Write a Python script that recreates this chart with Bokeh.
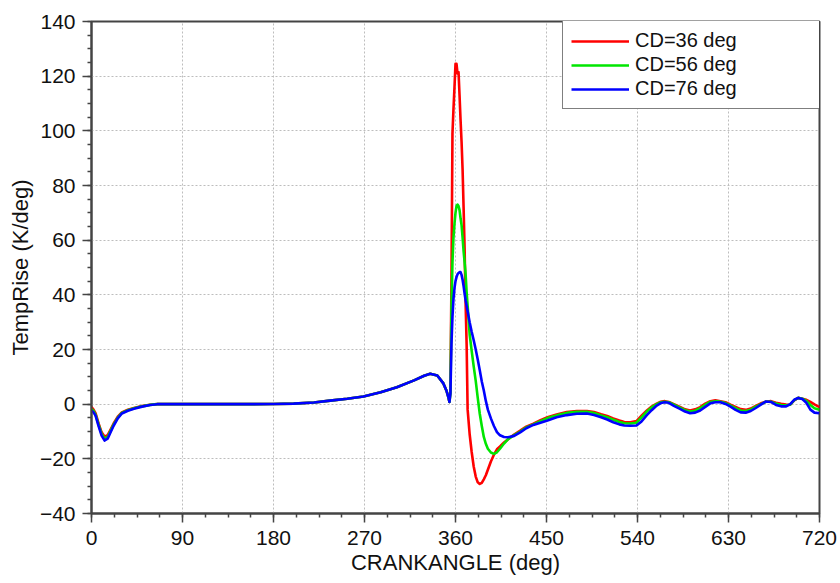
from bokeh.plotting import figure
from bokeh.models import Range1d, SingleIntervalTicker, Legend, LegendItem
from bokeh.embed import file_html
from bokeh.resources import INLINE

# Crank angle samples (deg), shared by all three series
crank_deg = [0, 2, 4, 7, 10, 13, 16, 19, 22, 26, 30, 36, 42, 50, 58, 65,
             90, 120, 150, 180, 200, 220, 236, 253, 269, 286, 302, 319, 329, 335, 342, 348,
             351, 353, 354, 355, 356, 357, 358, 359, 360, 361, 362, 363, 364, 365, 366, 367,
             368, 369, 370, 371, 372, 374, 376, 378, 380, 382, 384, 386, 388, 390, 392, 395,
             398, 401, 404, 408, 412, 418, 424, 430, 437, 444, 451, 460, 470, 480, 490, 497,
             504, 510, 516, 522, 527, 533, 539, 544, 549, 554, 559, 563, 567, 571, 576, 582,
             587, 592, 597, 602, 607, 612, 617, 622, 627, 632, 637, 642, 647, 652, 657, 662,
             667, 672, 677, 682, 687, 691, 695, 699, 703, 707, 711, 715, 720]

# Temperature rise rate (K/deg) for each combustion duration
cd36 = [-1.1, -2.0, -3.3, -7.0, -10.3, -11.9, -11.3, -9.2, -7.0, -4.6, -3.0, -2.0, -1.4, -0.7, -0.2, 0.0,
        0.0, 0.0, 0.0, 0.05, 0.2, 0.6, 1.3, 2.0, 2.8, 4.4, 6.2, 8.7, 10.4, 11.1, 10.5, 7.6,
        5.0, 2.5, 0.8, 5.0, 45.0, 99.0, 108.0, 116.0, 124.5, 124.5, 121.0, 121.5, 113.0, 104.0, 96.0, 86.0,
        72.0, 57.0, 37.0, 22.0, -2.0, -11.0, -17.5, -22.8, -26.5, -28.6, -29.2, -28.8, -27.5, -26.0, -24.0, -21.0,
        -18.5, -16.5, -15.5, -14.0, -12.8, -11.1, -9.7, -8.2, -7.1, -5.9, -4.8, -3.8, -2.9, -2.5, -2.5, -2.9,
        -3.7, -4.3, -5.2, -6.0, -6.5, -6.6, -6.2, -4.2, -2.4, -0.9, 0.2, 0.9, 1.1, 0.8, 0.0, -1.0,
        -1.9, -2.3, -1.9, -1.1, 0.2, 1.1, 1.4, 1.1, 0.7, -0.2, -1.0, -1.8, -2.1, -1.6, -0.6, 0.3,
        0.9, 1.1, 0.5, 0.1, -0.1, -0.2, 1.4, 2.3, 2.0, 1.6, 0.8, -0.1, -1.1]

cd56 = [-1.7, -2.5, -3.8, -7.5, -10.9, -12.6, -12.0, -9.7, -7.4, -4.9, -3.2, -2.2, -1.5, -0.8, -0.25, 0.0,
        0.0, 0.0, 0.0, 0.05, 0.2, 0.6, 1.3, 2.0, 2.8, 4.4, 6.2, 8.7, 10.4, 11.1, 10.5, 7.6,
        5.0, 2.5, 0.8, 4.0, 35.0, 52.0, 61.0, 66.0, 70.0, 72.5, 73.0, 72.5, 71.0, 68.0, 65.5, 61.0,
        56.0, 52.0, 47.5, 41.0, 36.0, 25.5, 19.5, 13.8, 8.5, 2.3, -3.5, -8.0, -12.0, -14.5, -16.3, -17.7,
        -18.2, -17.6, -16.3, -14.4, -12.8, -11.3, -10.0, -8.5, -7.4, -6.2, -5.1, -4.1, -3.2, -2.8, -2.8, -3.2,
        -4.1, -4.8, -5.7, -6.5, -7.0, -7.1, -6.8, -4.8, -2.8, -1.2, 0.0, 0.7, 0.9, 0.7, -0.2, -1.3,
        -2.2, -2.7, -2.4, -1.5, -0.2, 0.8, 1.1, 0.9, 0.4, -0.5, -1.5, -2.3, -2.5, -2.0, -0.9, 0.0,
        0.9, 0.9, 0.2, -0.3, -0.4, -0.2, 1.5, 2.3, 2.0, 1.2, -0.3, -1.5, -2.0]

cd76 = [-2.3, -3.0, -4.2, -8.0, -11.5, -13.3, -12.6, -10.2, -7.8, -5.2, -3.4, -2.4, -1.7, -0.9, -0.3, 0.0,
        0.0, 0.0, 0.0, 0.05, 0.2, 0.6, 1.3, 2.0, 2.8, 4.4, 6.2, 8.7, 10.4, 11.1, 10.5, 7.6,
        5.0, 2.5, 0.8, 4.0, 22.0, 32.0, 38.5, 42.5, 45.0, 46.5, 47.5, 48.0, 48.3, 48.3, 47.3, 45.5,
        43.2, 40.5, 38.0, 36.0, 34.0, 30.0, 26.5, 23.4, 20.0, 16.3, 12.4, 8.3, 5.0, 1.2, -2.0, -5.2,
        -8.0, -10.2, -11.4, -12.0, -12.1, -11.6, -10.3, -8.8, -7.6, -6.8, -6.0, -4.8, -4.0, -3.5, -3.4, -4.0,
        -4.8, -5.6, -6.6, -7.4, -7.8, -7.9, -7.8, -6.3, -4.1, -2.2, -0.5, 0.4, 0.7, 0.5, -0.6, -1.7,
        -2.7, -3.3, -3.1, -2.3, -1.0, 0.3, 0.7, 0.7, 0.1, -0.9, -2.1, -3.0, -3.1, -2.5, -1.4, -0.2,
        1.0, 0.8, -0.3, -0.8, -0.8, 0.0, 1.6, 2.3, 1.9, 0.5, -2.0, -3.1, -3.3]

series_labels = ["CD=36 deg", "CD=56 deg", "CD=76 deg"]
series_colors = ["#ff0000", "#00e600", "#0000ff"]

FONT = "Liberation Sans"
AXIS_COLOR = "#444444"

p = figure(width=840, height=583,
           x_range=Range1d(0, 720), y_range=Range1d(-40, 140),
           output_backend="svg", toolbar_location=None,
           min_border_left=91, min_border_right=21,
           min_border_top=21, min_border_bottom=70)

p.background_fill_color = "white"
p.border_fill_color = "white"
p.outline_line_color = AXIS_COLOR
p.outline_line_width = 2

p.xaxis.ticker = SingleIntervalTicker(interval=90, num_minor_ticks=4)
p.yaxis.ticker = SingleIntervalTicker(interval=20, num_minor_ticks=4)

for ax in (p.xaxis[0], p.yaxis[0]):
    ax.axis_line_color = AXIS_COLOR
    ax.axis_line_width = 2
    ax.major_tick_line_color = AXIS_COLOR
    ax.major_tick_line_width = 1.5
    ax.minor_tick_line_color = AXIS_COLOR
    ax.minor_tick_line_width = 1.5
    ax.major_tick_in = 0
    ax.major_tick_out = 9
    ax.minor_tick_in = 0
    ax.minor_tick_out = 4
    ax.major_label_text_font = FONT
    ax.major_label_text_font_size = "21px"
    ax.major_label_text_color = "#111111"
    ax.axis_label_text_font = FONT
    ax.axis_label_text_font_size = "22px"
    ax.axis_label_text_font_style = "normal"
    ax.axis_label_text_color = "#111111"

p.xaxis.axis_label = "CRANKANGLE (deg)"
p.yaxis.axis_label = "TempRise (K/deg)"
p.xaxis.major_label_standoff = 8
p.yaxis.major_label_standoff = 7
p.xaxis.axis_label_standoff = 2
p.yaxis.axis_label_standoff = 4

for g in (p.xgrid[0], p.ygrid[0]):
    g.grid_line_color = "#bdbdbd"
    g.grid_line_dash = "2 2"
    g.grid_line_width = 1

renderers = []
for vals, color in zip([cd36, cd56, cd76], series_colors):
    r = p.line(crank_deg, vals, line_color=color, line_width=2.6, line_join="round")
    renderers.append(r)

legend = Legend(
    items=[LegendItem(label=lab, renderers=[r]) for lab, r in zip(series_labels, renderers)],
    location=(471, 404),
    orientation="vertical",
    border_line_color="black",
    border_line_width=1.5,
    background_fill_color="white",
    background_fill_alpha=1,
    label_text_font=FONT,
    label_text_font_size="20px",
    label_text_color="#111111",
    glyph_width=58,
    glyph_height=22,
    label_height=22,
    label_width=177,
    label_standoff=6,
    spacing=1,
    padding=8,
    margin=0,
)
p.add_layout(legend)

open("out.html", "w").write(file_html(p, INLINE))
